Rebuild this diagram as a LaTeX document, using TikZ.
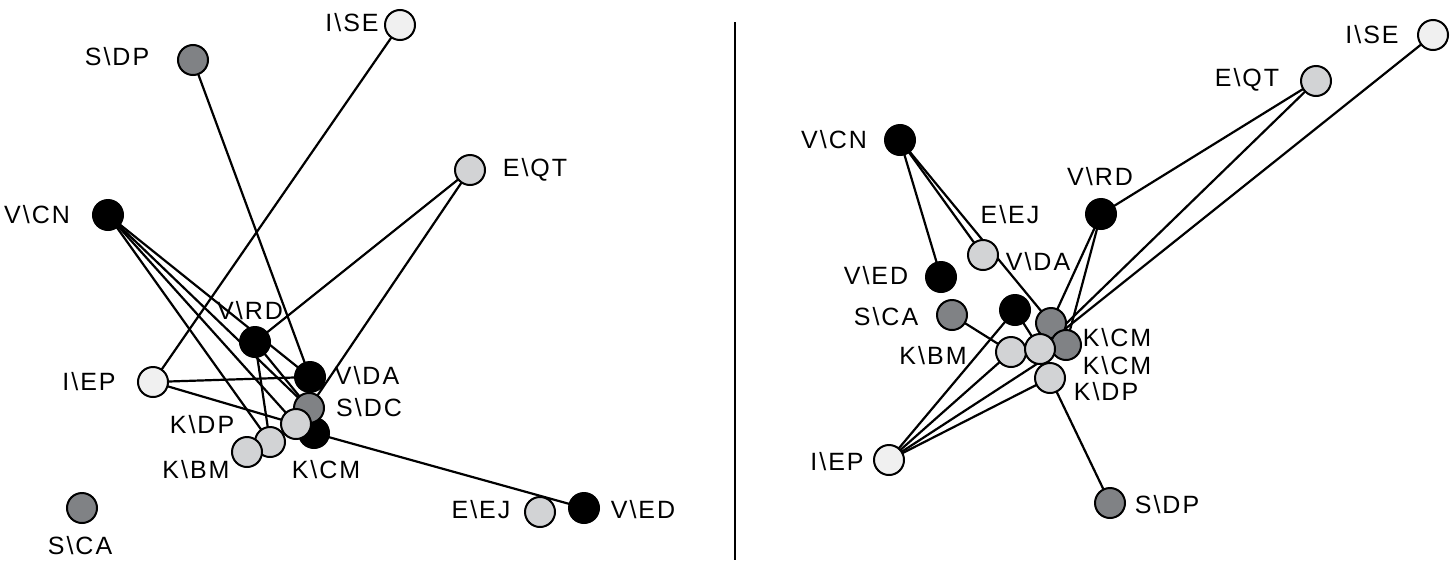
\documentclass[tikz,border=0pt]{standalone}
\usepackage{fontspec}
\setmainfont{Liberation Sans}[LetterSpace=8]
\pgfdeclarelayer{background}
\pgfsetlayers{background,main}
\definecolor{cVL}{HTML}{F0F0F0}
\definecolor{cLG}{HTML}{D2D3D5}
\definecolor{cDG}{HTML}{808285}
\tikzset{
  nd/.style={circle,draw=black,line width=2pt,minimum size=30pt,inner sep=0pt},
  vl/.style={nd,fill=cVL},
  lg/.style={nd,fill=cLG},
  dg/.style={nd,fill=cDG},
  bk/.style={nd,fill=black},
  lbl/.style={inner sep=0pt,font=\fontsize{25}{29}\selectfont},
  edge/.style={line width=2.2pt,black}
}
\newcommand{\bs}{\textbackslash}
\begin{document}
\begin{tikzpicture}[x=1pt,y=-1pt]
\useasboundingbox (0,0) rectangle (1450,560);
\draw[line width=2pt] (735,22) coordinate (divtop) -- (735,560) coordinate (divbot);
% ---------- left panel nodes ----------
\node[vl] (l-ise) at (400,25) {};
\node[dg] (l-sdp) at (193,60) {};
\node[lg] (l-eqt) at (470,170) {};
\node[bk] (l-vcn) at (108,215) {};
\node[bk] (l-vrd) at (255,342) {};
\node[vl] (l-iep) at (153,382) {};
\node[bk] (l-vda) at (310,377) {};
\node[bk] (l-kcm) at (314,433) {};
\node[dg] (l-sdc) at (309,408) {};
\node[lg] (l-la) at (296,424) {};
\node[lg] (l-lb) at (270,442) {};
\node[lg] (l-lc) at (247,452) {};
\node[lg] (l-eej) at (540,512) {};
\node[bk] (l-ved) at (584,508) {};
\node[dg] (l-sca) at (82,508) {};
% left labels
\node[lbl] (t-l-ise) at (352,23) {I\bs SE};
\node[lbl] (t-l-sdp) at (117,57) {S\bs DP};
\node[lbl] (t-l-eqt) at (535,170) {E\bs QT};
\node[lbl] (t-l-vcn) at (37,215) {V\bs CN};
\node[lbl] (t-l-vrd) at (250,311) {V\bs RD};
\node[lbl] (t-l-iep) at (89,382) {I\bs EP};
\node[lbl] (t-l-vda) at (367,376) {V\bs DA};
\node[lbl] (t-l-sdc) at (369,408) {S\bs DC};
\node[lbl] (t-l-kdp) at (202,425) {K\bs DP};
\node[lbl] (t-l-kbm) at (196,470) {K\bs BM};
\node[lbl] (t-l-kcm) at (326,470) {K\bs CM};
\node[lbl] (t-l-eej) at (481,510) {E\bs EJ};
\node[lbl] (t-l-ved) at (643,510) {V\bs ED};
\node[lbl] (t-l-sca) at (80,546) {S\bs CA};
% ---------- right panel nodes ----------
\node[vl] (r-ise) at (1433,35) {};
\node[lg] (r-eqt) at (1316,81) {};
\node[bk] (r-vcn) at (900,140) {};
\node[bk] (r-vrd) at (1101,214) {};
\node[lg] (r-eej) at (983,255) {};
\node[bk] (r-ved) at (941,277) {};
\node[dg] (r-sca) at (952,315) {};
\node[bk] (r-u) at (1015,310) {};
\node[dg] (r-g1) at (1051,323) {};
\node[dg] (r-g2) at (1066,345) {};
\node[lg] (r-kbm) at (1011,352) {};
\node[lg] (r-l2) at (1040,349) {};
\node[lg] (r-kdp) at (1050,378) {};
\node[vl] (r-iep) at (889,460) {};
\node[dg] (r-sdp) at (1110,503) {};
% right labels
\node[lbl] (t-r-ise) at (1372,35) {I\bs SE};
\node[lbl] (t-r-eqt) at (1247,80) {E\bs QT};
\node[lbl] (t-r-vcn) at (834,140) {V\bs CN};
\node[lbl] (t-r-vrd) at (1100,177) {V\bs RD};
\node[lbl] (t-r-eej) at (1010,215) {E\bs EJ};
\node[lbl] (t-r-vda) at (1038,262) {V\bs DA};
\node[lbl] (t-r-ved) at (876,276) {V\bs ED};
\node[lbl] (t-r-sca) at (886,317) {S\bs CA};
\node[lbl] (t-r-kbm) at (933,356) {K\bs BM};
\node[lbl] (t-r-kcm1) at (1117,338) {K\bs CM};
\node[lbl] (t-r-kcm2) at (1117,366) {K\bs CM};
\node[lbl] (t-r-kdp) at (1106,392) {K\bs DP};
\node[lbl] (t-r-iep) at (837,462) {I\bs EP};
\node[lbl] (t-r-sdp) at (1167,505) {S\bs DP};
% ---------- edges ----------
\begin{pgfonlayer}{background}
\draw[edge] (l-ise.center) -- (l-iep.center);
\draw[edge] (l-sdp.center) -- (l-vda.center);
\draw[edge] (l-eqt.center) -- (l-vrd.center);
\draw[edge] (l-eqt.center) -- (l-sdc.center);
\draw[edge] (l-vcn.center) -- (l-lb.center);
\draw[edge] (l-vcn.center) -- (l-la.center);
\draw[edge] (l-vcn.center) -- (l-sdc.center);
\draw[edge] (l-vcn.center) -- (l-vda.center);
\draw[edge] (l-vrd.center) -- (l-lb.center);
\draw[edge] (l-vrd.center) -- (l-sdc.center);
\draw[edge] (l-iep.center) -- (l-vda.center);
\draw[edge] (l-iep.center) -- (l-la.center);
\draw[edge] (l-kcm.center) -- (l-ved.center);
%
\draw[edge] (r-vcn.center) -- (r-ved.center);
\draw[edge] (r-vcn.center) -- (r-eej.center);
\draw[edge] (r-vcn.center) -- (r-g1.center);
\draw[edge] (r-vrd.center) -- (r-eqt.center);
\draw[edge] (r-vrd.center) -- (r-g1.center);
\draw[edge] (r-vrd.center) -- (r-g2.center);
\draw[edge] (r-eqt.center) -- (r-l2.center);
\draw[edge] (r-ise.center) -- (r-l2.center);
\draw[edge] (r-sca.center) -- (r-kbm.center);
\draw[edge] (r-iep.center) -- (r-kbm.center);
\draw[edge] (r-iep.center) -- (r-u.center);
\draw[edge] (r-iep.center) -- (r-g2.center);
\draw[edge] (r-iep.center) -- (r-kdp.center);
\draw[edge] (r-kdp.center) -- (r-sdp.center);
\draw[edge] (r-u.center) -- (r-l2.center);
\end{pgfonlayer}
\end{tikzpicture}
\end{document}
